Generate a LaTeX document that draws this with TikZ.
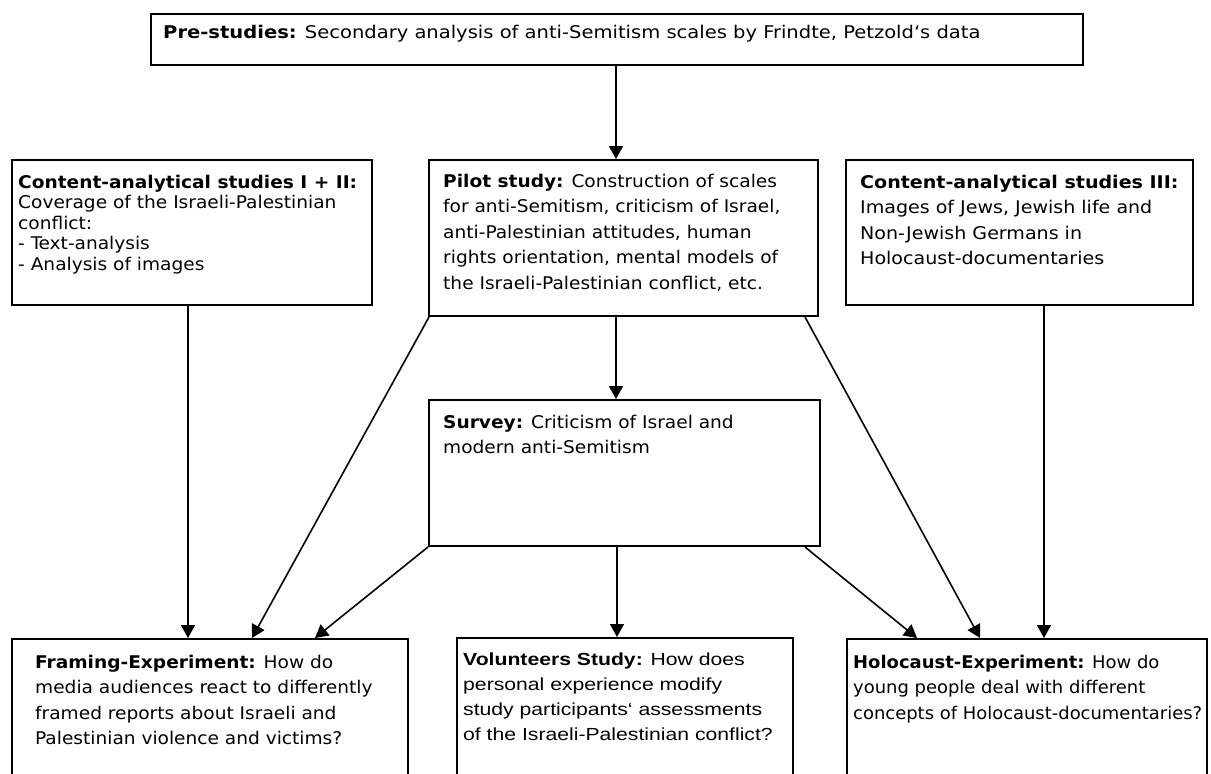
\documentclass[tikz,border=0pt]{standalone}
\usepackage{fontspec}
\setmainfont{DejaVu Sans Condensed}
\newfontfamily\rfont{DejaVu Sans Condensed}[FakeStretch=1.18]
\newfontfamily\tfont{DejaVu Sans Condensed}[FakeStretch=1.24]
\newfontfamily\cfont{DejaVu Sans Condensed}[FakeStretch=1.21]
\newfontfamily\hfont{DejaVu Sans Condensed}[FakeStretch=1.14]
\newfontfamily\arialfont{Liberation Sans}[FakeStretch=1.21]
\usetikzlibrary{arrows.meta}
\tikzset{
  frame/.style={draw=black, line width=2pt, inner sep=0pt, anchor=north west},
  txt/.style={inner sep=0pt, anchor=north west, align=left, font=\rfont\fontsize{17.5}{25.4}\selectfont},
  tight/.style={font=\rfont\fontsize{17.5}{20.4}\selectfont},
  arr/.style={draw=black, line width=1.6pt, -{Triangle[length=13pt,width=14pt]}}
}
\begin{document}
\begin{tikzpicture}[x=1pt,y=-1pt]
\useasboundingbox[fill=white] (0,0) rectangle (1211,774);
% boxes
\node[frame, minimum width=932pt, minimum height=51pt] (pre) at (150,13) {};
\node[frame, minimum width=360pt, minimum height=145pt] (ca12) at (11,159) {};
\node[frame, minimum width=389pt, minimum height=156pt] (pilot) at (428,159) {};
\node[frame, minimum width=347pt, minimum height=145pt] (ca3) at (845,159) {};
\node[frame, minimum width=391pt, minimum height=146pt] (survey) at (428,399) {};
\node[frame, minimum width=396pt, minimum height=160pt] (framing) at (11,638) {};
\node[frame, minimum width=336pt, minimum height=160pt] (vol) at (456,637) {};
\node[frame, minimum width=360pt, minimum height=160pt] (holo) at (846,638) {};
% texts
\node[txt, font=\tfont\fontsize{17.5}{25.4}\selectfont] (preT) at ([shift={(13,12)}]pre.north west)
  {\textbf{Pre-studies:} Secondary analysis of anti-Semitism scales by Frindte, Petzold‘s data};
\node[txt, tight] (ca12T) at ([shift={(7,16)}]ca12.north west)
  {\textbf{Content-analytical studies I + II:}\\Coverage of the Israeli-Palestinian\\conflict:\\- Text-analysis\\- Analysis of images};
\node[txt] (pilotT) at ([shift={(15,15)}]pilot.north west)
  {\textbf{Pilot study:} Construction of scales\\for anti-Semitism, criticism of Israel,\\anti-Palestinian attitudes, human\\rights orientation, mental models of\\the Israeli-Palestinian conflict, etc.};
\node[txt, font=\cfont\fontsize{17.5}{25.4}\selectfont] (ca3T) at ([shift={(15,16)}]ca3.north west)
  {\textbf{Content-analytical studies III:}\\Images of Jews, Jewish life and\\Non-Jewish Germans in\\Holocaust-documentaries};
\node[txt] (surveyT) at ([shift={(15,16)}]survey.north west)
  {\textbf{Survey:} Criticism of Israel and\\modern anti-Semitism};
\node[txt] (framingT) at ([shift={(24,17)}]framing.north west)
  {\textbf{Framing-Experiment:} How do\\media audiences react to differently\\framed reports about Israeli and\\Palestinian violence and victims?};
\node[txt, font=\arialfont\fontsize{17.5}{25}\selectfont] (volT) at ([shift={(7,16)}]vol.north west)
  {\textbf{Volunteers Study:} How does\\personal experience modify\\study participants‘ assessments\\of the Israeli-Palestinian conflict?};
\node[txt, font=\hfont\fontsize{17.5}{25.4}\selectfont] (holoT) at ([shift={(7,17)}]holo.north west)
  {\textbf{Holocaust-Experiment:} How do\\young people deal with different\\concepts of Holocaust-documentaries?};
% connectors
\draw[arr] ([xshift=466pt]pre.south west) -- ([xshift=188pt]pilot.north west);
\draw[arr] ([xshift=188pt]pilot.south west) -- ([xshift=188pt]survey.north west);
\draw[arr] ([xshift=177pt]ca12.south west) -- ([xshift=177pt]framing.north west);
\draw[arr] ([xshift=1pt]pilot.south west) -- ([xshift=241pt]framing.north west);
\draw[arr] (survey.south west) -- ([xshift=304pt]framing.north west);
\draw[arr] ([xshift=189pt]survey.south west) -- ([xshift=161pt]vol.north west);
\draw[arr] ([xshift=377pt]survey.south west) -- ([xshift=71pt]holo.north west);
\draw[arr] ([xshift=377pt]pilot.south west) -- ([xshift=134pt]holo.north west);
\draw[arr] ([xshift=199pt]ca3.south west) -- ([xshift=198pt]holo.north west);
\end{tikzpicture}
\end{document}
